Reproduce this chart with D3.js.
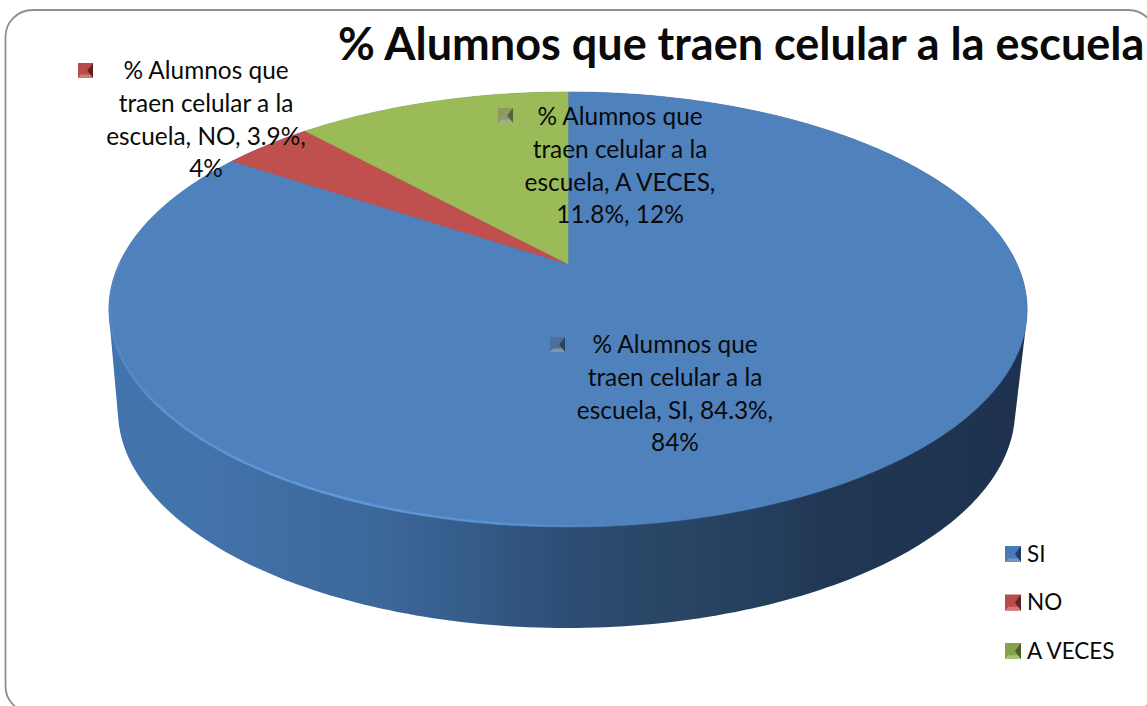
<!DOCTYPE html>
<html><head><meta charset="utf-8">
<script src="https://cdn.jsdelivr.net/npm/d3@7/dist/d3.min.js"></script>
<style>html,body{margin:0;padding:0;background:#fff;overflow:hidden}svg{display:block}text{font-family:Lato,"Open Sans",sans-serif;fill:#0a0a0a}</style>
</head><body><svg id="c" width="1147" height="706"></svg>
<script>
const chartTitle = "% Alumnos que traen celular a la escuela";
const categories = ["SI", "NO", "A VECES"];
const values = [84.3, 3.9, 11.8];
const labelLines = [
  ["% Alumnos que", "traen celular a la", "escuela, SI, 84.3%,", "84%"],
  ["% Alumnos que", "traen celular a la", "escuela, NO, 3.9%,", "4%"],
  ["% Alumnos que", "traen celular a la", "escuela, A VECES,", "11.8%, 12%"]
];
const topColors = ["#4f81bd", "#c0504d", "#9bbb59"];
const keyColors = [
  {base:"#4a7ab5", light:"#6f97c8", dark:"#1f3f66"},
  {base:"#b84c49", light:"#cf7a78", dark:"#5f2422"},
  {base:"#86a34c", light:"#a9c276", dark:"#4a5c28"}
];
const labelKeyColors = [
  {base:"#4d6f99", light:"#7d95b3", dark:"#2c4260"},
  {base:"#b84c49", light:"#cf7a78", dark:"#5f2422"},
  {base:"#8b9a63", light:"#a3ae84", dark:"#56603a"}
];
const labelPos = [{cx:675,y:353,kx:550,ky:337},{cx:206,y:79,kx:78,ky:63},{cx:620,y:125,kx:498,ky:108}];

const svg = d3.select("#c");
const defs = svg.append("defs");
const TAU = Math.PI*2;

// perspective projection of a unit disc onto the page
const K = -0.209, AY = 208, BX = 449, APEX = [568,264];
function project(t, depth){
  const x = Math.sin(t), y = -Math.cos(t), d = 1 + K*y;
  const sx = depth ? 0.977 : 1;
  return [APEX[0] - (depth?1.5:0) + BX*sx*x/d, APEX[1] + (depth?101:0) + AY*y/d];
}
const line = d3.line();
const sample = (a,b,n) => d3.range(n+1).map(i => a + (b-a)*i/n);

// side wall
const wallStops = [[0,"#4474ad"],[0.12,"#4272a9"],[0.3,"#3c6799"],[0.4,"#345b89"],[0.5,"#2d4d74"],[0.6,"#2a4666"],[0.7,"#25405f"],[0.8,"#203652"],[1,"#1e3250"]];
const wg = defs.append("linearGradient").attr("id","wall").attr("gradientUnits","userSpaceOnUse")
  .attr("x1",108).attr("x2",1027).attr("y1",0).attr("y2",0);
wallStops.forEach(s=>wg.append("stop").attr("offset",s[0]).attr("stop-color",s[1]));
const rimTop = sample(0,TAU,360).map(t=>project(t,false));
const rimBot = sample(0,TAU,360).map(t=>project(t,true));
svg.append("path").attr("d", line(d3.polygonHull(rimTop.concat(rimBot)))+"Z").attr("fill","url(#wall)");

// top face
const pie = d3.pie().sort(null).value(d=>d).startAngle(0).endAngle(TAU);
const arcs = pie(values);
svg.append("g").selectAll("path").data(arcs).join("path")
  .attr("d", a => {
    const n = Math.max(4,Math.round((a.endAngle-a.startAngle)*120));
    return line([APEX].concat(sample(a.startAngle,a.endAngle,n).map(t=>project(t,false))))+"Z";
  })
  .attr("fill",(a,i)=>topColors[i]).attr("stroke",(a,i)=>topColors[i]).attr("stroke-width",0.6);

// rim highlight, front-left edge of the top face
const hg = defs.append("linearGradient").attr("id","rimlight").attr("gradientUnits","userSpaceOnUse")
  .attr("x1",108).attr("x2",620).attr("y1",0).attr("y2",0);
[[0,0.15],[0.1,0.7],[0.45,1],[0.8,0.6],[1,0]].forEach(s=>hg.append("stop").attr("offset",s[0]).attr("stop-color","#6299dd").attr("stop-opacity",s[1]));
svg.append("path").attr("d",line(sample(Math.PI*0.98,Math.PI*1.5,160).map(t=>project(t,false))))
  .attr("fill","none").attr("stroke","url(#rimlight)").attr("stroke-width",2.2).attr("transform","translate(1,-1)");

// frame
svg.append("rect").attr("x",5.5).attr("y",10).attr("width",1150).attr("height",703).attr("rx",27)
  .attr("fill","none").attr("stroke","#8f8f8f").attr("stroke-width",1.8);

// title
svg.append("text").attr("x",338).attr("y",60).attr("font-size",45).attr("font-weight",700).text(chartTitle);

// bevelled key
function key(g,x,y,s,c){
  const m=[x+s*0.62,y+s*0.5], tl=[x,y],tr=[x+s,y],br=[x+s,y+s],bl=[x,y+s];
  g.append("rect").attr("x",x).attr("y",y).attr("width",s).attr("height",s).attr("fill",c.base);
  g.append("path").attr("d",line([tr,br,m])+"Z").attr("fill",c.dark);
  g.append("path").attr("d",line([bl,br,[x+s*0.8,y+s*0.76],[x+s*0.2,y+s*0.76]])+"Z").attr("fill",c.light);
}

// data labels
const lab = svg.append("g");
labelLines.forEach((lines,i)=>{
  const p=labelPos[i];
  key(lab,p.kx,p.ky,15,labelKeyColors[i]);
  lines.forEach((t,j)=>lab.append("text").attr("x",p.cx).attr("y",p.y+j*32.8).attr("text-anchor","middle").attr("font-size",24.4).text(t));
});

// legend
const legendY = d3.scalePoint().domain(categories).range([546,643]);
const leg = svg.append("g");
categories.forEach((c,i)=>{
  key(leg,1005,legendY(c),16,keyColors[i]);
  leg.append("text").attr("x",1027).attr("y",legendY(c)+15.5).attr("font-size",22.5).text(c);
});
</script></body></html>
